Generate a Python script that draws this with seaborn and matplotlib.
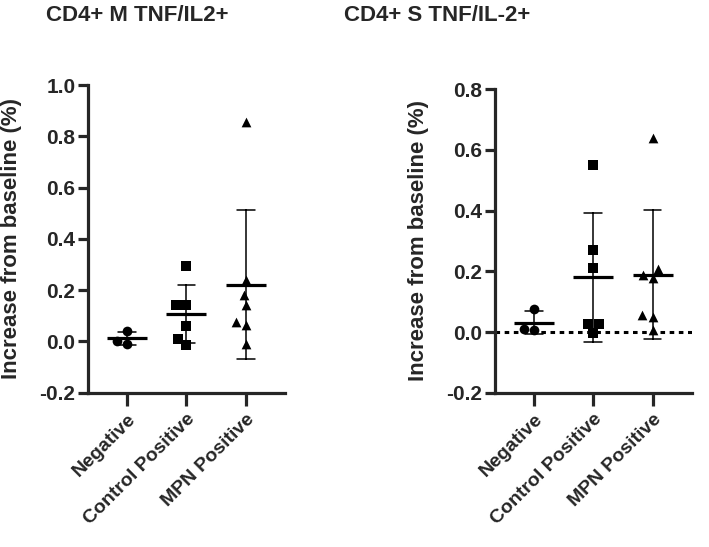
import numpy as np
import pandas as pd
import seaborn as sns
import matplotlib.pyplot as plt

sns.set_style("ticks")
plt.rcParams["font.family"] = ["Liberation Sans", "DejaVu Sans"]
plt.rcParams["axes.unicode_minus"] = False

groups = ["Negative", "Control Positive", "MPN Positive"]
markers = {"Negative": "o", "Control Positive": "s", "MPN Positive": "^"}

# CD4+ M TNF/IL2+ (increase from baseline, %)
m_negative = [0.040, -0.008, 0.003]
m_control = [0.295, 0.143, 0.143, 0.062, -0.013, 0.009]
m_mpn = [0.856, 0.240, 0.180, 0.143, 0.074, 0.065, -0.009]

# CD4+ S TNF/IL-2+ (increase from baseline, %)
s_negative = [0.075, 0.007, 0.011]
s_control = [0.550, 0.270, 0.210, -0.002, 0.025, 0.025]
s_mpn = [0.640, 0.206, 0.179, 0.188, 0.056, 0.050, 0.007]


def make_df(neg, ctrl, mpn):
    rows = []
    for g, vals in zip(groups, [neg, ctrl, mpn]):
        for v in vals:
            rows.append({"group": g, "value": v})
    return pd.DataFrame(rows)


panels = [
    ("CD4+ M TNF/IL2+", make_df(m_negative, m_control, m_mpn), (-0.2, 1.0), False),
    ("CD4+ S TNF/IL-2+", make_df(s_negative, s_control, s_mpn), (-0.2, 0.8), True),
]

fig = plt.figure(figsize=(7.09, 5.47), dpi=100)
ax_rects = [[0.124, 0.282, 0.278, 0.5625], [0.698, 0.282, 0.2775, 0.555]]
title_x = [137.5 / 709, 437 / 709]

for (title, df, ylim, zero_line), rect, tx in zip(panels, ax_rects, title_x):
    ax = fig.add_axes(rect)
    for g in groups:
        sns.swarmplot(data=df[df["group"] == g], x="group", y="value", order=groups,
                      marker=markers[g], color="black", size=7, ax=ax)
    sns.pointplot(data=df, x="group", y="value", order=groups, estimator="mean",
                  errorbar="sd", capsize=0.3, markers="_", linestyles="none",
                  color="black", markersize=29, markeredgewidth=2.3,
                  err_kws={"linewidth": 1.1}, ax=ax)
    if zero_line:
        ax.axhline(0, color="black", lw=2.2, ls=(0, (1.5, 1.5)), zorder=0)
    ax.set_xlim(-0.66, 2.66)
    ax.set_ylim(*ylim)
    ax.set_yticks(np.arange(ylim[0], ylim[1] + 0.01, 0.2))
    ax.set_yticklabels([f"{t:.1f}" for t in ax.get_yticks()], fontsize=15, fontweight="bold")
    ax.set_xticks(range(len(groups)))
    ax.set_xticklabels(groups, rotation=45, ha="right", rotation_mode="anchor",
                       fontsize=14, fontweight="bold")
    ax.set_xlabel("")
    ax.set_ylabel("Increase from baseline (%)", fontsize=16, fontweight="bold")
    ax.yaxis.set_label_coords(-0.335, 0.5)
    for side in ["top", "right"]:
        ax.spines[side].set_visible(False)
    for side in ["left", "bottom"]:
        ax.spines[side].set_linewidth(2.3)
    ax.tick_params(axis="y", length=7, width=2.3, pad=2)
    ax.tick_params(axis="x", length=9, width=2.3, pad=4)
    fig.text(tx, 0.99, title, ha="center", va="top", fontsize=16, fontweight="bold")

fig.savefig("out.png", dpi=100)
